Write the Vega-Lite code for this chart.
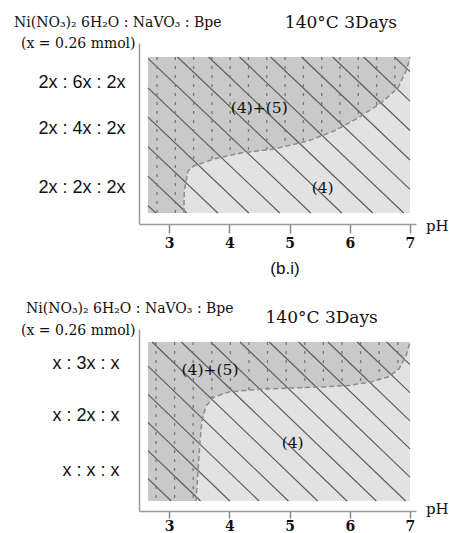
{
  "$schema": "https://vega.github.io/schema/vega-lite/v6.json",
  "padding": {"left": 13, "top": 14, "right": 5, "bottom": 0},
  "background": "white",
  "config": {"view": {"stroke": null}, "axis": {"grid": false}},
  "bounds": "flush",
  "spacing": 105,
  "datasets": {
    "topBg": [{"ph": 2.649, "ph2": 7.0, "lv": 0.608, "lv2": 9.227}],
    "topDark": [
      {"i": 0, "ph": 2.649, "lv": 0.608, "hi": 9.227},
      {"i": 1, "ph": 3.247, "lv": 0.608, "hi": 9.227},
      {"i": 2, "ph": 3.252, "lv": 1.823, "hi": 9.227},
      {"i": 3, "ph": 3.314, "lv": 2.928, "hi": 9.227},
      {"i": 4, "ph": 3.413, "lv": 3.204, "hi": 9.227},
      {"i": 5, "ph": 3.745, "lv": 3.591, "hi": 9.227},
      {"i": 6, "ph": 4.194, "lv": 3.923, "hi": 9.227},
      {"i": 7, "ph": 4.742, "lv": 4.144, "hi": 9.227},
      {"i": 8, "ph": 5.306, "lv": 4.586, "hi": 9.227},
      {"i": 9, "ph": 5.738, "lv": 5.138, "hi": 9.227},
      {"i": 10, "ph": 6.137, "lv": 5.856, "hi": 9.227},
      {"i": 11, "ph": 6.519, "lv": 6.685, "hi": 9.227},
      {"i": 12, "ph": 6.801, "lv": 7.514, "hi": 9.227},
      {"i": 13, "ph": 6.934, "lv": 8.453, "hi": 9.227},
      {"i": 14, "ph": 6.984, "lv": 9.006, "hi": 9.227},
      {"i": 15, "ph": 7.0, "lv": 9.227, "hi": 9.227}
    ],
    "topHatch": [
      {"ph": 2.649, "lv": 1.017, "ph2": 2.779, "lv2": 0.608},
      {"ph": 2.649, "lv": 2.646, "ph2": 3.294, "lv2": 0.608},
      {"ph": 2.649, "lv": 4.271, "ph2": 3.809, "lv2": 0.608},
      {"ph": 2.649, "lv": 5.901, "ph2": 4.323, "lv2": 0.608},
      {"ph": 2.649, "lv": 7.525, "ph2": 4.838, "lv2": 0.608},
      {"ph": 2.649, "lv": 9.155, "ph2": 5.353, "lv2": 0.608},
      {"ph": 3.141, "lv": 9.227, "ph2": 5.868, "lv2": 0.608},
      {"ph": 3.656, "lv": 9.227, "ph2": 6.382, "lv2": 0.608},
      {"ph": 4.171, "lv": 9.227, "ph2": 6.897, "lv2": 0.608},
      {"ph": 4.685, "lv": 9.227, "ph2": 7.0, "lv2": 1.912},
      {"ph": 5.2, "lv": 9.227, "ph2": 7.0, "lv2": 3.536},
      {"ph": 5.715, "lv": 9.227, "ph2": 7.0, "lv2": 5.166},
      {"ph": 6.23, "lv": 9.227, "ph2": 7.0, "lv2": 6.79},
      {"ph": 6.744, "lv": 9.227, "ph2": 7.0, "lv2": 8.42}
    ],
    "topDots": [
      {"ph": 2.799, "lv": 9.227, "bot": 0.608},
      {"ph": 3.103, "lv": 9.227, "bot": 0.608},
      {"ph": 3.407, "lv": 9.227, "bot": 3.19},
      {"ph": 3.711, "lv": 9.227, "bot": 3.55},
      {"ph": 4.014, "lv": 9.227, "bot": 3.79},
      {"ph": 4.318, "lv": 9.227, "bot": 3.97},
      {"ph": 4.622, "lv": 9.227, "bot": 4.09},
      {"ph": 4.926, "lv": 9.227, "bot": 4.29},
      {"ph": 5.23, "lv": 9.227, "bot": 4.52},
      {"ph": 5.534, "lv": 9.227, "bot": 4.88},
      {"ph": 5.838, "lv": 9.227, "bot": 5.32},
      {"ph": 6.142, "lv": 9.227, "bot": 5.87},
      {"ph": 6.446, "lv": 9.227, "bot": 6.52},
      {"ph": 6.749, "lv": 9.227, "bot": 7.36}
    ],
    "topRegions": [
      {"ph": 4.498, "lv": 6.43, "t": "(4)+(5)"},
      {"ph": 5.55, "lv": 2.0, "t": "(4)"}
    ],
    "topHead": [
      {"ph": 0.424, "lv": 11.1, "t": "Ni(NO₃)₂ 6H₂O : NaVO₃ : Bpe"},
      {"ph": 0.541, "lv": 9.945, "t": "(x = 0.26 mmol)"}
    ],
    "topCond": [{"ph": 5.854, "lv": 11.1, "t": "140°C 3Days"}],
    "topPh": [{"ph": 7.266, "lv": -0.1, "t": "pH"}],
    "topCaption": [{"ph": 4.924, "lv": -2.49, "t": "(b.i)"}],
    "botBg": [{"ph": 2.649, "ph2": 7.0, "lv": 0.549, "lv2": 9.286}],
    "botDark": [
      {"i": 0, "ph": 2.649, "lv": 0.549, "hi": 9.286},
      {"i": 1, "ph": 3.447, "lv": 0.549, "hi": 9.286},
      {"i": 2, "ph": 3.48, "lv": 2.198, "hi": 9.286},
      {"i": 3, "ph": 3.513, "lv": 3.846, "hi": 9.286},
      {"i": 4, "ph": 3.546, "lv": 4.945, "hi": 9.286},
      {"i": 5, "ph": 3.613, "lv": 5.769, "hi": 9.286},
      {"i": 6, "ph": 3.745, "lv": 6.264, "hi": 9.286},
      {"i": 7, "ph": 3.994, "lv": 6.538, "hi": 9.286},
      {"i": 8, "ph": 4.443, "lv": 6.676, "hi": 9.286},
      {"i": 9, "ph": 5.024, "lv": 6.758, "hi": 9.286},
      {"i": 10, "ph": 5.522, "lv": 6.813, "hi": 9.286},
      {"i": 11, "ph": 5.971, "lv": 6.896, "hi": 9.286},
      {"i": 12, "ph": 6.353, "lv": 7.088, "hi": 9.286},
      {"i": 13, "ph": 6.635, "lv": 7.363, "hi": 9.286},
      {"i": 14, "ph": 6.817, "lv": 7.802, "hi": 9.286},
      {"i": 15, "ph": 6.934, "lv": 8.516, "hi": 9.286},
      {"i": 16, "ph": 6.992, "lv": 9.176, "hi": 9.286},
      {"i": 17, "ph": 7.0, "lv": 9.286, "hi": 9.286}
    ],
    "botHatch": [
      {"ph": 2.649, "lv": 1.775, "ph2": 3.035, "lv2": 0.549},
      {"ph": 2.649, "lv": 3.319, "ph2": 3.521, "lv2": 0.549},
      {"ph": 2.649, "lv": 4.868, "ph2": 4.008, "lv2": 0.549},
      {"ph": 2.649, "lv": 6.412, "ph2": 4.494, "lv2": 0.549},
      {"ph": 2.649, "lv": 7.956, "ph2": 4.981, "lv2": 0.549},
      {"ph": 2.718, "lv": 9.286, "ph2": 5.467, "lv2": 0.549},
      {"ph": 3.204, "lv": 9.286, "ph2": 5.954, "lv2": 0.549},
      {"ph": 3.691, "lv": 9.286, "ph2": 6.441, "lv2": 0.549},
      {"ph": 4.177, "lv": 9.286, "ph2": 6.927, "lv2": 0.549},
      {"ph": 4.664, "lv": 9.286, "ph2": 7.0, "lv2": 1.863},
      {"ph": 5.15, "lv": 9.286, "ph2": 7.0, "lv2": 3.412},
      {"ph": 5.637, "lv": 9.286, "ph2": 7.0, "lv2": 4.956},
      {"ph": 6.123, "lv": 9.286, "ph2": 7.0, "lv2": 6.5},
      {"ph": 6.61, "lv": 9.286, "ph2": 7.0, "lv2": 8.044}
    ],
    "botDots": [
      {"ph": 2.782, "lv": 9.286, "bot": 0.549},
      {"ph": 3.091, "lv": 9.286, "bot": 0.549},
      {"ph": 3.4, "lv": 9.286, "bot": 0.549},
      {"ph": 3.709, "lv": 9.286, "bot": 6.126},
      {"ph": 4.018, "lv": 9.286, "bot": 6.544},
      {"ph": 4.327, "lv": 9.286, "bot": 6.643},
      {"ph": 4.635, "lv": 9.286, "bot": 6.703},
      {"ph": 4.944, "lv": 9.286, "bot": 6.753},
      {"ph": 5.253, "lv": 9.286, "bot": 6.786},
      {"ph": 5.562, "lv": 9.286, "bot": 6.819},
      {"ph": 5.871, "lv": 9.286, "bot": 6.874},
      {"ph": 6.18, "lv": 9.286, "bot": 7.0},
      {"ph": 6.489, "lv": 9.286, "bot": 7.22},
      {"ph": 6.798, "lv": 9.286, "bot": 7.75}
    ],
    "botRegions": [
      {"ph": 3.679, "lv": 7.75, "t": "(4)+(5)"},
      {"ph": 5.052, "lv": 3.75, "t": "(4)"}
    ],
    "botHead": [
      {"ph": 0.624, "lv": 11.1, "t": "Ni(NO₃)₂ 6H₂O : NaVO₃ : Bpe"},
      {"ph": 0.541, "lv": 9.89, "t": "(x = 0.26 mmol)"}
    ],
    "botCond": [{"ph": 5.534, "lv": 10.62, "t": "140°C 3Days"}],
    "botPh": [{"ph": 7.266, "lv": 0.1, "t": "pH"}]
  },
  "vconcat": [
    {
      "width": 277,
      "height": 181,
      "encoding": {
        "x": {"field": "ph", "type": "quantitative", "scale": {"domain": [2.5, 7.1], "nice": false, "zero": false},
          "axis": {"values": [3, 4, 5, 6, 7], "title": null, "format": "d", "labelFont": "DejaVu Serif", "labelFontWeight": "bold", "labelFontSize": 14, "labelColor": "#111", "tickColor": "#888", "tickSize": 9, "tickWidth": 1.5, "domainColor": "#999", "domainWidth": 1.5, "labelPadding": 3, "grid": false, "labelFlush": false, "labelOverlap": false}},
        "y": {"field": "lv", "type": "quantitative", "scale": {"domain": [0, 10], "nice": false, "zero": false},
          "axis": {"values": [2, 5.25, 7.8], "title": null, "ticks": false, "labelFont": "Liberation Sans", "labelFontSize": 18, "labelColor": "#111", "labelPadding": 14, "domainColor": "#999", "domainWidth": 1.5, "grid": false, "labelFlush": false, "labelOverlap": false,
            "labelExpr": "datum.value > 7 ? '2x : 6x : 2x' : datum.value > 4 ? '2x : 4x : 2x' : '2x : 2x : 2x'"}}
      },
      "layer": [
        {
          "data": {"name": "topBg"},
          "mark": {"type": "rect", "color": "#e2e2e2"},
          "encoding": {"x2": {"field": "ph2"}, "y2": {"field": "lv2"}}
        },
        {
          "data": {"name": "topDark"},
          "mark": {"type": "area", "color": "#c9c9c9", "interpolate": "linear"},
          "encoding": {"y2": {"field": "hi"}}
        },
        {
          "data": {"name": "topHatch"},
          "mark": {"type": "rule", "color": "#5a5a5a", "strokeWidth": 1.1},
          "encoding": {"x2": {"field": "ph2"}, "y2": {"field": "lv2"}}
        },
        {
          "data": {"name": "topDots"},
          "mark": {"type": "rule", "color": "#777", "strokeWidth": 1.3, "strokeDash": [3, 6]},
          "encoding": {"y2": {"field": "bot"}}
        },
        {
          "data": {"name": "topDark"},
          "transform": [{"filter": "datum.i > 0"}],
          "mark": {"type": "line", "color": "#8c8c8c", "strokeWidth": 1.5, "strokeDash": [5, 3]},
          "encoding": {"order": {"field": "i"}}
        },
        {
          "data": {"name": "topRegions"},
          "mark": {"type": "text", "font": "DejaVu Serif", "fontSize": 15.5, "color": "#111", "align": "center", "baseline": "middle"},
          "encoding": {"text": {"field": "t"}}
        },
        {
          "data": {"name": "topHead"},
          "mark": {"type": "text", "font": "DejaVu Serif", "fontSize": 14, "color": "#111", "align": "left", "baseline": "middle"},
          "encoding": {"text": {"field": "t"}}
        },
        {
          "data": {"name": "topCond"},
          "mark": {"type": "text", "font": "DejaVu Serif", "fontSize": 17, "color": "#111", "align": "center", "baseline": "middle"},
          "encoding": {"text": {"field": "t"}}
        },
        {
          "data": {"name": "topPh"},
          "mark": {"type": "text", "font": "DejaVu Serif", "fontSize": 15, "color": "#111", "align": "left", "baseline": "middle"},
          "encoding": {"text": {"field": "t"}}
        },
        {
          "data": {"name": "topCaption"},
          "mark": {"type": "text", "font": "Liberation Sans", "fontSize": 17, "color": "#111", "align": "center", "baseline": "middle"},
          "encoding": {"text": {"field": "t"}}
        }
      ]
    },
    {
      "width": 277,
      "height": 182,
      "encoding": {
        "x": {"field": "ph", "type": "quantitative", "scale": {"domain": [2.5, 7.1], "nice": false, "zero": false},
          "axis": {"values": [3, 4, 5, 6, 7], "title": null, "format": "d", "labelFont": "DejaVu Serif", "labelFontWeight": "bold", "labelFontSize": 14, "labelColor": "#111", "tickColor": "#888", "tickSize": 7, "tickWidth": 1.5, "domainColor": "#999", "domainWidth": 1.5, "labelPadding": 1, "grid": false, "labelFlush": false, "labelOverlap": false}},
        "y": {"field": "lv", "type": "quantitative", "scale": {"domain": [0, 10], "nice": false, "zero": false},
          "axis": {"values": [2.2, 5.22, 8.08], "title": null, "ticks": false, "labelFont": "Liberation Sans", "labelFontSize": 18, "labelColor": "#111", "labelPadding": 20, "domainColor": "#999", "domainWidth": 1.5, "grid": false, "labelFlush": false, "labelOverlap": false,
            "labelExpr": "datum.value > 7 ? 'x : 3x : x' : datum.value > 4 ? 'x : 2x : x' : 'x : x : x'"}}
      },
      "layer": [
        {
          "data": {"name": "botBg"},
          "mark": {"type": "rect", "color": "#e2e2e2"},
          "encoding": {"x2": {"field": "ph2"}, "y2": {"field": "lv2"}}
        },
        {
          "data": {"name": "botDark"},
          "mark": {"type": "area", "color": "#c9c9c9", "interpolate": "linear"},
          "encoding": {"y2": {"field": "hi"}}
        },
        {
          "data": {"name": "botHatch"},
          "mark": {"type": "rule", "color": "#5a5a5a", "strokeWidth": 1.1},
          "encoding": {"x2": {"field": "ph2"}, "y2": {"field": "lv2"}}
        },
        {
          "data": {"name": "botDots"},
          "mark": {"type": "rule", "color": "#777", "strokeWidth": 1.3, "strokeDash": [3, 6]},
          "encoding": {"y2": {"field": "bot"}}
        },
        {
          "data": {"name": "botDark"},
          "transform": [{"filter": "datum.i > 0"}],
          "mark": {"type": "line", "color": "#8c8c8c", "strokeWidth": 1.5, "strokeDash": [5, 3]},
          "encoding": {"order": {"field": "i"}}
        },
        {
          "data": {"name": "botRegions"},
          "mark": {"type": "text", "font": "DejaVu Serif", "fontSize": 15.5, "color": "#111", "align": "center", "baseline": "middle"},
          "encoding": {"text": {"field": "t"}}
        },
        {
          "data": {"name": "botHead"},
          "mark": {"type": "text", "font": "DejaVu Serif", "fontSize": 14, "color": "#111", "align": "left", "baseline": "middle"},
          "encoding": {"text": {"field": "t"}}
        },
        {
          "data": {"name": "botCond"},
          "mark": {"type": "text", "font": "DejaVu Serif", "fontSize": 17, "color": "#111", "align": "center", "baseline": "middle"},
          "encoding": {"text": {"field": "t"}}
        },
        {
          "data": {"name": "botPh"},
          "mark": {"type": "text", "font": "DejaVu Serif", "fontSize": 15, "color": "#111", "align": "left", "baseline": "middle"},
          "encoding": {"text": {"field": "t"}}
        }
      ]
    }
  ]
}
